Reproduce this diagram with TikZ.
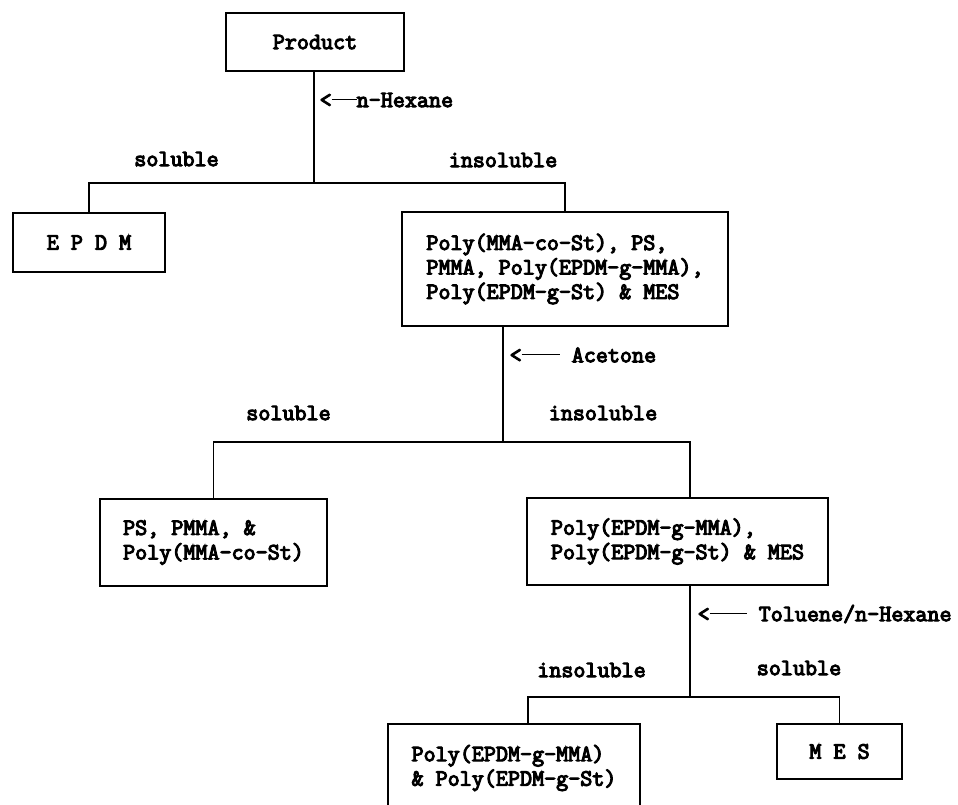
\documentclass[tikz,border=0pt]{standalone}
\usepackage{fontspec}
\setmainfont{Latin Modern Mono}[FakeBold=4.5]
\usetikzlibrary{positioning, calc}

% solvent added at a split: "<" with a short line, then the name
\newcommand{\solvent}[2]{<\rule[6.8pt]{#1}{1.1pt}#2}

\tikzset{
  box/.style={draw, line width=1.3pt, align=left, inner sep=0pt},
  lbl/.style={inner sep=0pt},
}

\begin{document}
\begin{tikzpicture}[x=1pt, y=-1pt, line width=1.3pt,
  font=\fontsize{23.4}{24.5}\selectfont]
\useasboundingbox (0,0) rectangle (958,804);

% boxes
\node[box, minimum width=178pt, minimum height=58pt] (product) at (315,42) {Product};
\node[box, minimum width=152pt, minimum height=59pt] (epdm) at (89,242.5) {E P D M};
\node[box, minimum width=326pt, minimum height=114pt] (mix) at (565,269)
  {Poly(MMA-co-St), PS,\\PMMA, Poly(EPDM-g-MMA),\\Poly(EPDM-g-St) \& MES};
\node[box, minimum width=227pt, minimum height=87pt] (homo) at (213.5,542.5)
  {PS, PMMA, \&\\Poly(MMA-co-St)};
\node[box, minimum width=301pt, minimum height=87pt] (grafts) at (677.5,541.5)
  {Poly(EPDM-g-MMA),\\Poly(EPDM-g-St) \& MES};
\node[box, minimum width=252pt, minimum height=88pt] (pure) at (514,768)
  {Poly(EPDM-g-MMA)\\\& Poly(EPDM-g-St)};
\node[box, minimum width=125pt, minimum height=55pt] (mes) at (839.5,751.5) {M E S};

% split points
\coordinate (j1) at (314,183);
\coordinate (j2) at (503,442);
\coordinate (j3) at (690,697);

% connectors
\draw (j1 |- product.south) -- (j1);
\draw (epdm) |- (j1) -| (mix);
\draw (j2 |- mix.south) -- (j2);
\draw (homo) |- (j2) -| (j3 |- grafts.north);
\draw (j3 |- grafts.south) -- (j3);
\draw (j3) -| ([xshift=14pt]pure.north);
\draw (j3) -| (mes);

% solvents
\node[lbl, anchor=west] (hex) at (319,100) {\solvent{25pt}{n-Hexane}};
\node[lbl, anchor=west] (ace) at (509,355) {\solvent{38pt}{ Acetone}};
\node[lbl, anchor=west] (tol) at (697,614) {\solvent{37pt}{ Toluene/n-Hexane}};

% fractions
\node[lbl] (sol1) at (176.5,159) {soluble};
\node[lbl] (ins1) at (503,160) {insoluble};
\node[lbl] (sol2) at (288.5,413) {soluble};
\node[lbl] (ins2) at (603,413) {insoluble};
\node[lbl] (ins3) at (591.5,670) {insoluble};
\node[lbl] (sol3) at (799,668) {soluble};
\end{tikzpicture}
\end{document}
